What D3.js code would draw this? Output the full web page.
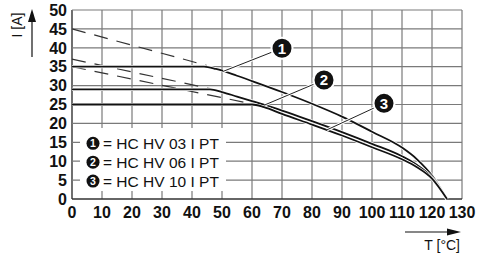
<!DOCTYPE html>
<html><head><meta charset="utf-8">
<script src="https://cdn.jsdelivr.net/npm/d3@7"></script>
<style>
html,body{margin:0;padding:0;background:#fff;}
svg{display:block;font-family:"Liberation Sans",Arial,Helvetica,sans-serif;}
</style></head>
<body>
<svg id="chart" width="480" height="256"></svg>
<script>
// ---- data ----
const xTicks = [0,10,20,30,40,50,60,70,80,90,100,110,120,130];
const yTicks = [0,5,10,15,20,25,30,35,40,45,50];
const xTitle = "T [°C]";
const yTitle = "I [A]";

const c1T = [0,44,48,55,60,70,80,90,100,110,115,120,125];
const c1I = [35,35,34.4,32.6,31.2,28.3,25.2,21.8,17.8,13.6,10.5,6.2,0];
const c2T = [0,46,50,55,60,70,80,90,100,110,115,120,125];
const c2I = [29,29,28.3,27.1,25.9,23.4,20.6,17.7,14.6,11.3,9.0,5.7,0];
const c3T = [0,60,64,70,80,90,100,110,115,120,125];
const c3I = [25,25,24.3,22.5,19.7,16.8,13.7,10.5,8.4,5.4,0];

// dashed extrapolation lines
const dashStartT = [0,0,0];
const dashStartI = [45,37,35];
const dashEndT   = [45,46,61];
const dashEndI   = [35.3,29.2,25];

// callouts
const calloutNum = ["1","2","3"];
const calloutT = [70,84,104];
const calloutI = [39.9,31.5,25.3];
const leaderT  = [50.5,64.3,85];
const leaderI  = [33.8,24.9,18.3];

const legendNames = ["= HC HV 03 I PT","= HC HV 06 I PT","= HC HV 10 I PT"];
const legendI = [15,10,5];

// ---- chart ----
const svg = d3.select("#chart");
const x = d3.scaleLinear().domain([0,130]).range([72,462]);
const y = d3.scaleLinear().domain([0,50]).range([199,10]);

// grid
const grid = svg.append("g");
grid.selectAll("line.v").data(xTicks).join("line")
  .attr("x1",d=>x(d)).attr("x2",d=>x(d)).attr("y1",y(0)).attr("y2",y(50))
  .attr("stroke",d=>d===0?"#333":"#7a7a7a").attr("stroke-width",d=>d===0?1.4:1.2);
grid.selectAll("line.h").data(yTicks).join("line")
  .attr("y1",d=>y(d)).attr("y2",d=>y(d)).attr("x1",x(0)).attr("x2",x(130))
  .attr("stroke",d=>d===0?"#333":"#7a7a7a").attr("stroke-width",d=>d===0?1.4:1.2);

// tick labels
svg.append("g").selectAll("text").data(yTicks).join("text")
  .attr("x",67).attr("y",d=>y(d)).attr("dy","0.36em")
  .attr("text-anchor","end").attr("font-weight","bold").attr("font-size",16)
  .attr("fill","#111").text(d=>d);
svg.append("g").selectAll("text").data(xTicks).join("text")
  .attr("x",d=>x(d)).attr("y",218)
  .attr("text-anchor","middle").attr("font-weight","bold").attr("font-size",16)
  .attr("fill","#111").text(d=>d);

// legend white box
svg.append("rect").attr("x",80).attr("y",128).attr("width",146).attr("height",63).attr("fill","#fff");

// dashed lines
svg.append("g").selectAll("line").data(dashStartT).join("line")
  .attr("x1",(d,i)=>x(dashStartT[i])).attr("y1",(d,i)=>y(dashStartI[i]))
  .attr("x2",(d,i)=>x(dashEndT[i])).attr("y2",(d,i)=>y(dashEndI[i]))
  .attr("stroke","#333").attr("stroke-width",1.2).attr("stroke-dasharray","14,9");

// curves
const line = d3.line().x(d=>x(d[0])).y(d=>y(d[1])).curve(d3.curveMonotoneX);
const curves = [[c1T,c1I],[c2T,c2I],[c3T,c3I]].map(([T,I])=>T.map((t,i)=>[t,I[i]]));
const cg = svg.append("g");
curves.forEach(c=>{
  cg.append("path").attr("d",line(c)).attr("fill","none").attr("stroke","#fff").attr("stroke-width",3.2);
  cg.append("path").attr("d",line(c)).attr("fill","none").attr("stroke","#121212")
    .attr("stroke-width",1.8).attr("stroke-linejoin","round");
});

// leaders
const lg = svg.append("g");
lg.selectAll("line.h").data(calloutT).join("line")
  .attr("x1",(d,i)=>x(calloutT[i])).attr("y1",(d,i)=>y(calloutI[i]))
  .attr("x2",(d,i)=>x(leaderT[i])).attr("y2",(d,i)=>y(leaderI[i]))
  .attr("stroke","#fff").attr("stroke-width",3);
lg.selectAll("line.l").data(calloutT).join("line")
  .attr("x1",(d,i)=>x(calloutT[i])).attr("y1",(d,i)=>y(calloutI[i]))
  .attr("x2",(d,i)=>x(leaderT[i])).attr("y2",(d,i)=>y(leaderI[i]))
  .attr("stroke","#222").attr("stroke-width",1);
lg.selectAll("circle").data(calloutT).join("circle")
  .attr("cx",(d,i)=>x(calloutT[i])).attr("cy",(d,i)=>y(calloutI[i])).attr("r",10.5)
  .attr("fill","#111").attr("stroke","#fff").attr("stroke-width",2);
lg.selectAll("text").data(calloutNum).join("text")
  .attr("x",(d,i)=>x(calloutT[i])).attr("y",(d,i)=>y(calloutI[i])).attr("dy","0.36em")
  .attr("text-anchor","middle").attr("fill","#fff").attr("font-weight","bold").attr("font-size",15)
  .text(d=>d);

// legend
const leg = svg.append("g");
leg.selectAll("circle").data(legendNames).join("circle")
  .attr("cx",93).attr("cy",(d,i)=>y(legendI[i])+1).attr("r",6.5).attr("fill","#111");
leg.selectAll("text.n").data(calloutNum).join("text")
  .attr("x",93).attr("y",(d,i)=>y(legendI[i])+1).attr("dy","0.36em")
  .attr("text-anchor","middle").attr("fill","#fff").attr("font-weight","bold").attr("font-size",10.5)
  .text(d=>d);
leg.selectAll("text.t").data(legendNames).join("text")
  .attr("x",103).attr("y",(d,i)=>y(legendI[i])+1).attr("dy","0.36em")
  .attr("font-size",15.5).attr("fill","#111").text(d=>d);

// axis titles with arrows
svg.append("text").attr("transform","translate(22,25) rotate(-90)")
  .attr("text-anchor","middle").attr("font-size",14).attr("fill","#111").text(yTitle);
svg.append("line").attr("x1",32).attr("x2",32).attr("y1",57).attr("y2",20)
  .attr("stroke","#111").attr("stroke-width",1.2);
svg.append("path").attr("d","M32,9 L28,22 L36,22 Z").attr("fill","#111");

svg.append("text").attr("x",460).attr("y",250).attr("text-anchor","end")
  .attr("font-size",14).attr("fill","#111").text(xTitle);
svg.append("line").attr("x1",405).attr("x2",450).attr("y1",232).attr("y2",232)
  .attr("stroke","#111").attr("stroke-width",1.2);
svg.append("path").attr("d","M461,232 L447,228.5 L447,235.5 Z").attr("fill","#111");
</script>
</body></html>
